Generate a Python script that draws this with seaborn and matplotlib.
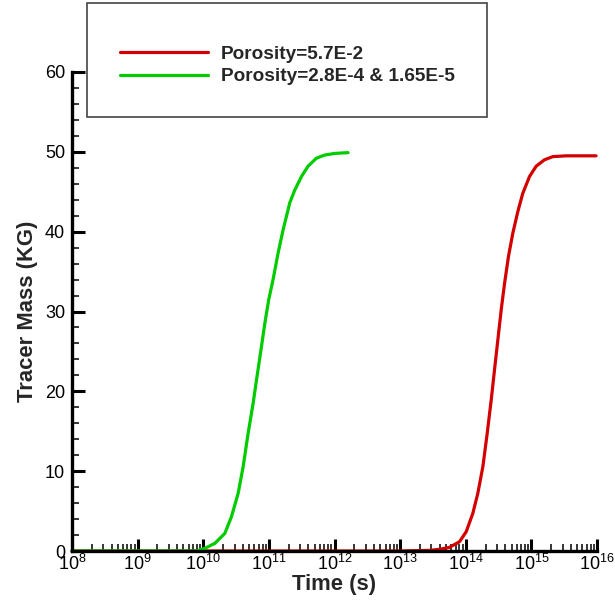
import numpy as np
import pandas as pd
import matplotlib
matplotlib.use("Agg")
import matplotlib.pyplot as plt
from matplotlib.patches import Rectangle
from matplotlib.lines import Line2D
from matplotlib.ticker import LogLocator, MultipleLocator
import seaborn as sns

sns.set_style("ticks")
plt.rcParams['font.family'] = ['Liberation Sans', 'DejaVu Sans']
plt.rcParams['mathtext.fontset'] = 'custom'
plt.rcParams['mathtext.rm'] = 'Liberation Sans'
plt.rcParams['mathtext.it'] = 'Liberation Sans'
plt.rcParams['mathtext.default'] = 'regular'

label_red = "Porosity=5.7E-2"
label_green = "Porosity=2.8E-4 & 1.65E-5"

# log10(time [s]) and tracer mass [kg]
red_logt = [8.0, 10.0, 12.0, 13.0, 13.45, 13.601, 13.753, 13.906, 14.007, 14.108, 14.184,
            14.261, 14.327, 14.388, 14.438, 14.489, 14.540, 14.591, 14.651, 14.717, 14.793,
            14.869, 14.971, 15.073, 15.199, 15.326, 15.53, 15.986]
red_mass = [0.0, 0.0, 0.0, 0.0, 0.08, 0.21, 0.46, 1.17, 2.42, 4.72, 7.23,
            10.57, 14.75, 18.92, 22.68, 26.44, 30.2, 33.5, 36.9, 39.8, 42.5,
            44.8, 46.9, 48.2, 49.0, 49.4, 49.5, 49.5]
green_logt = [8.0, 9.0, 9.9, 10.024, 10.177, 10.329, 10.430, 10.532, 10.608, 10.684, 10.760,
              10.811, 10.887, 10.938, 10.998, 11.064, 11.140, 11.216, 11.318, 11.394, 11.496,
              11.597, 11.724, 11.851, 12.003, 12.206]
green_mass = [0.0, 0.0, 0.0, 0.33, 0.96, 2.21, 4.30, 7.23, 10.57, 14.75, 18.5,
              21.4, 25.6, 28.5, 31.5, 34.0, 37.3, 40.2, 43.6, 45.2, 46.9,
              48.2, 49.2, 49.6, 49.8, 49.9]

df = pd.concat([
    pd.DataFrame({"Time": 10.0 ** np.array(red_logt), "Mass": red_mass, "Series": label_red}),
    pd.DataFrame({"Time": 10.0 ** np.array(green_logt), "Mass": green_mass, "Series": label_green}),
], ignore_index=True)

W, H = 615, 602
fig = plt.figure(figsize=(W / 100, H / 100), dpi=100)
ax = fig.add_axes([72 / W, 1 - 551 / H, (597 - 72) / W, (551 - 72) / H])

palette = {label_red: "#d40000", label_green: "#00cc00"}
sns.lineplot(data=df, x="Time", y="Mass", hue="Series", hue_order=[label_red, label_green],
             palette=palette, sort=False, estimator=None, linewidth=2.3, ax=ax, legend=False)
for ln in ax.lines:
    ln.set_clip_on(False)
    ln.set_solid_joinstyle('round')

ax.set_xscale('log')
ax.set_xlim(1e8, 1e16)
ax.set_ylim(0, 60)
ax.xaxis.set_major_locator(LogLocator(base=10, numticks=20))
ax.xaxis.set_minor_locator(LogLocator(base=10, subs=np.arange(2, 10), numticks=100))
ax.yaxis.set_major_locator(MultipleLocator(10))
ax.yaxis.set_minor_locator(MultipleLocator(2))

for s in ['top', 'right']:
    ax.spines[s].set_visible(False)
for s in ['left', 'bottom']:
    ax.spines[s].set_linewidth(2.4)
    ax.spines[s].set_color('black')

ax.tick_params(axis='both', which='major', direction='in', length=9, width=2.2,
               labelsize=13, colors='black')
ax.tick_params(axis='both', which='minor', direction='in', length=5, width=1.1, colors='black')
ax.tick_params(axis='x', which='major', pad=2)
ax.tick_params(axis='y', which='major', pad=5)

ax.set_xlabel("Time (s)", fontsize=15.8, fontweight='bold', labelpad=0)
ax.set_ylabel("Tracer Mass (KG)", fontsize=15.8, fontweight='bold', labelpad=5)

# legend box
fig.patches.append(Rectangle((87 / W, 1 - 117 / H), (487 - 87) / W, (117 - 3) / H,
                             transform=fig.transFigure, facecolor='white',
                             edgecolor='#444444', linewidth=1.2, zorder=5))
handles = [Line2D([], [], color=palette[label_red], lw=2.3),
           Line2D([], [], color=palette[label_green], lw=2.3)]
leg = fig.legend(handles, [label_red, label_green], loc='center left',
                 bbox_to_anchor=(120 / W, 1 - 65.5 / H), frameon=False,
                 borderpad=0, borderaxespad=0, handlelength=4.6, handletextpad=0.7,
                 labelspacing=0.25, prop={'weight': 'bold', 'size': 13.7})
leg.set_zorder(6)

fig.savefig("out.png", dpi=100)
